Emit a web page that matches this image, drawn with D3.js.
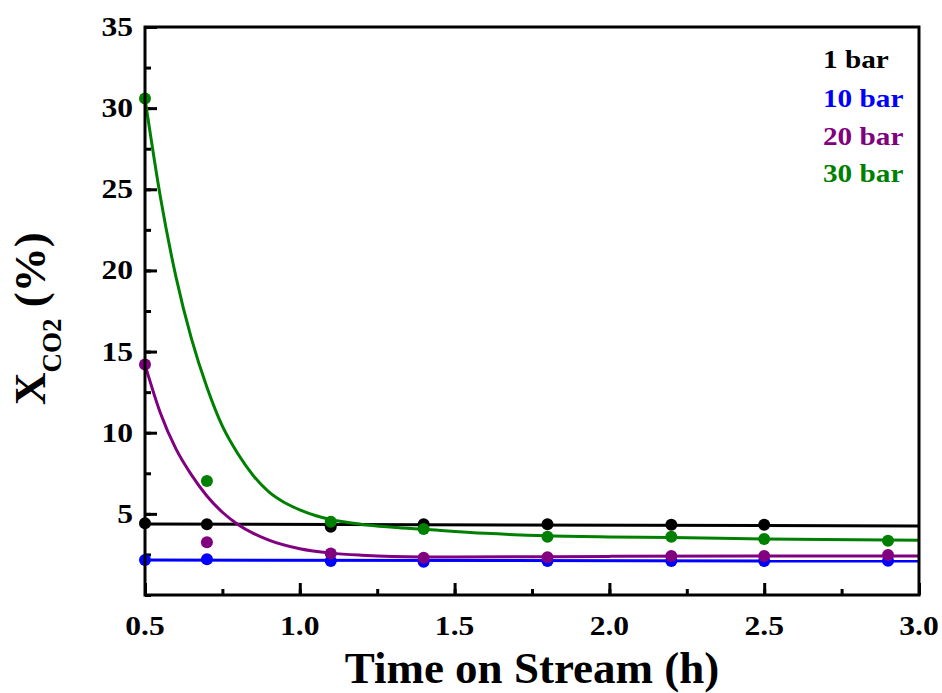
<!DOCTYPE html>
<html>
<head>
<meta charset="utf-8">
<script src="https://cdn.jsdelivr.net/npm/d3@7/dist/d3.min.js"></script>
<style>
  html, body { margin: 0; padding: 0; background: #fff; }
  svg { display: block; }
  text { font-family: "Liberation Serif", "Times New Roman", serif; font-weight: bold; }
</style>
</head>
<body>
<svg id="chart" width="942" height="693"></svg>
<script>
// Measured CO2 conversion (%) vs time on stream (h)
const hours1  = [0.5, 0.7, 1.1, 1.4, 1.8, 2.2, 2.5];
const bar1    = [4.42, 4.36, 4.21, 4.36, 4.36, 4.33, 4.33];
const hours   = [0.5, 0.7, 1.1, 1.4, 1.8, 2.2, 2.5, 2.9];
const bar10   = [2.16, 2.20, 2.09, 2.05, 2.09, 2.09, 2.09, 2.11];
const bar20   = [14.2, 3.25, 2.55, 2.30, 2.32, 2.40, 2.40, 2.46];
const bar30   = [30.6, 7.02, 4.52, 4.07, 3.59, 3.59, 3.45, 3.35];

// Fitted trend curves
const fit1X  = [0.5, 3.0];
const fit1Y  = [4.38, 4.25];
const fit10X = [0.5, 3.0];
const fit10Y = [2.15, 2.09];
const fit20X = [0.5, 0.55, 0.6, 0.65, 0.7, 0.75, 0.8, 0.85, 0.9, 1.0, 1.1, 1.2, 1.3, 1.5, 2.0, 2.5, 3.0];
const fit20Y = [14.2, 11.2, 9.0, 7.4, 6.1, 5.1, 4.35, 3.8, 3.38, 2.85, 2.58, 2.45, 2.38, 2.34, 2.38, 2.40, 2.40];
const fit30X = [0.5, 0.55, 0.6, 0.65, 0.7, 0.75, 0.8, 0.85, 0.9, 0.95, 1.0, 1.05, 1.1, 1.2, 1.3, 1.4, 1.6, 1.8, 2.0, 2.2, 2.5, 2.8, 3.0];
const fit30Y = [30.6, 24.5, 19.6, 15.8, 12.8, 10.4, 8.7, 7.35, 6.35, 5.7, 5.25, 4.9, 4.65, 4.35, 4.18, 4.05, 3.8, 3.65, 3.58, 3.55, 3.45, 3.4, 3.38];

const seriesNames  = ["1 bar", "10 bar", "20 bar", "30 bar"];
const seriesColors = ["#000000", "#0000ff", "#800080", "#008000"];

const xTicks = [0.5, 1.0, 1.5, 2.0, 2.5, 3.0];
const yTicks = [5, 10, 15, 20, 25, 30, 35];

const svg = d3.select("#chart");
const plotL = 145, plotR = 919, plotT = 27, plotB = 595;

const x = d3.scaleLinear().domain([0.5, 3.0]).range([plotL, plotR]);
const y = d3.scaleLinear().domain([0, 35]).range([plotB, plotT]);

const stretch = 1.17;

// Axes with inward ticks
const xMinor = d3.range(0.5, 3.0001, 0.25);
const yMinor = d3.range(0, 35.0001, 2.5);

function styleAxis(g) {
  g.select(".domain").remove();
  g.selectAll("line").attr("stroke", "#000").attr("stroke-width", 3);
}

svg.append("g").attr("transform", `translate(0,${plotB})`)
  .call(d3.axisBottom(x).tickValues(xMinor).tickSizeInner(-6).tickSizeOuter(0).tickFormat(""))
  .call(styleAxis);
svg.append("g").attr("transform", `translate(0,${plotB})`)
  .call(d3.axisBottom(x).tickValues(xTicks).tickSizeInner(-12).tickSizeOuter(0).tickFormat(""))
  .call(styleAxis);
svg.append("g").attr("transform", `translate(${plotL},0)`)
  .call(d3.axisLeft(y).tickValues(yMinor).tickSizeInner(-6).tickSizeOuter(0).tickFormat(""))
  .call(styleAxis);
svg.append("g").attr("transform", `translate(${plotL},0)`)
  .call(d3.axisLeft(y).tickValues(yTicks).tickSizeInner(-12).tickSizeOuter(0).tickFormat(""))
  .call(styleAxis);

// Tick labels
svg.append("g").selectAll("g").data(xTicks).join("g")
  .attr("transform", d => `translate(${x(d)},635) scale(${stretch},1)`)
  .append("text")
  .attr("text-anchor", "middle")
  .attr("font-size", 27)
  .text(d => d.toFixed(1));

svg.append("g").selectAll("g").data(yTicks).join("g")
  .attr("transform", d => `translate(133,${y(d) + 9}) scale(${stretch},1)`)
  .append("text")
  .attr("text-anchor", "end")
  .attr("font-size", 27)
  .text(d => d);

// Fitted curves
const line = d3.line().x(d => x(d[0])).y(d => y(d[1])).curve(d3.curveMonotoneX);
const fits = [
  d3.zip(fit1X, fit1Y),
  d3.zip(fit10X, fit10Y),
  d3.zip(fit20X, fit20Y),
  d3.zip(fit30X, fit30Y)
];
const points = [
  d3.zip(hours1, bar1),
  d3.zip(hours, bar10),
  d3.zip(hours, bar20),
  d3.zip(hours, bar30)
];

fits.forEach((f, i) => {
  svg.append("path")
    .datum(f)
    .attr("d", line)
    .attr("fill", "none")
    .attr("stroke", seriesColors[i])
    .attr("stroke-width", 3);
});

points.forEach((p, i) => {
  svg.append("g").selectAll("circle").data(p).join("circle")
    .attr("cx", d => x(d[0]))
    .attr("cy", d => y(d[1]))
    .attr("r", 6)
    .attr("fill", seriesColors[i]);
});

// Frame
svg.append("rect")
  .attr("x", plotL).attr("y", plotT)
  .attr("width", plotR - plotL).attr("height", plotB - plotT)
  .attr("fill", "none").attr("stroke", "#000").attr("stroke-width", 3);

// Legend
const legendY = [68, 107, 145, 182];
seriesNames.forEach((name, i) => {
  svg.append("g")
    .attr("transform", `translate(823,${legendY[i]}) scale(${stretch},1)`)
    .append("text")
    .attr("font-size", 25)
    .attr("fill", seriesColors[i])
    .text(name);
});

// Axis titles
svg.append("text")
  .attr("x", (plotL + plotR) / 2)
  .attr("y", 683)
  .attr("text-anchor", "middle")
  .attr("font-size", 45)
  .text("Time on Stream (h)");

const yt = svg.append("text")
  .attr("transform", "translate(45,405) rotate(-90)")
  .attr("font-size", 45);
yt.append("tspan").text("X");
yt.append("tspan").attr("font-size", 27).attr("dy", 16).text("CO2");
yt.append("tspan").attr("dy", -16).text(" (%)");
</script>
</body>
</html>
